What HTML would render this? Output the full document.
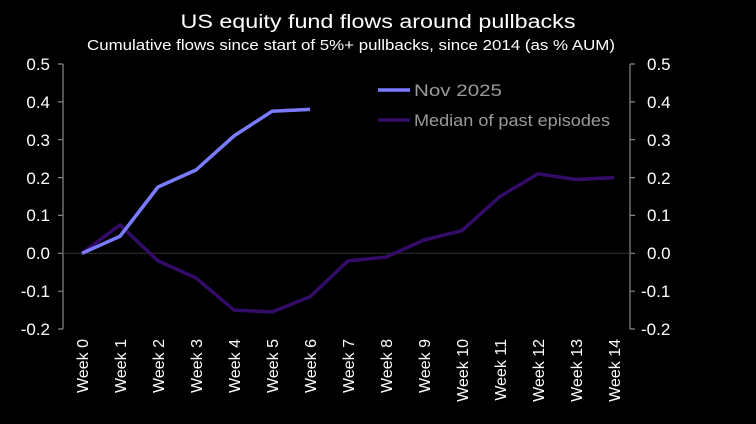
<!DOCTYPE html>
<html><head><style>body{margin:0;background:#000}svg{display:block}</style></head><body>
<svg width="756" height="424" viewBox="0 0 756 424" xmlns="http://www.w3.org/2000/svg" font-family="Liberation Sans, sans-serif">
<rect width="756" height="424" fill="#000"/>
<text x="378" y="28" fill="#fff" font-size="19" text-anchor="middle" textLength="395" lengthAdjust="spacingAndGlyphs">US equity fund flows around pullbacks</text>
<text x="351" y="50" fill="#fff" font-size="14.5" text-anchor="middle" textLength="528" lengthAdjust="spacingAndGlyphs">Cumulative flows since start of 5%+ pullbacks, since 2014 (as % AUM)</text>
<g stroke="#888" stroke-width="1.2" fill="none">
<path d="M63,64V329M58,64H63M58,101.9H63M58,139.7H63M58,177.6H63M58,215.4H63M58,253.3H63M58,291.2H63M58,329H63"/>
<path d="M630,64V329M630,64H635M630,101.9H635M630,139.7H635M630,177.6H635M630,215.4H635M630,253.3H635M630,291.2H635M630,329H635"/>
</g>
<line x1="63" y1="253.3" x2="630" y2="253.3" stroke="#333" stroke-width="1"/>
<g fill="#fff" font-size="17" text-anchor="end">
<text x="50" y="70">0.5</text><text x="50" y="108">0.4</text><text x="50" y="146">0.3</text><text x="50" y="184">0.2</text><text x="50" y="221">0.1</text><text x="50" y="259">0.0</text><text x="50" y="297">-0.1</text><text x="50" y="335">-0.2</text>
</g>
<g fill="#fff" font-size="17" text-anchor="start">
<text x="647" y="70">0.5</text><text x="647" y="108">0.4</text><text x="647" y="146">0.3</text><text x="647" y="184">0.2</text><text x="647" y="221">0.1</text><text x="647" y="259">0.0</text><text x="641" y="297">-0.1</text><text x="641" y="335">-0.2</text>
</g>
<g fill="#fff" font-size="16" text-anchor="end">
<text transform="translate(88,339) rotate(-90)">Week 0</text>
<text transform="translate(126,339) rotate(-90)">Week 1</text>
<text transform="translate(164,339) rotate(-90)">Week 2</text>
<text transform="translate(202,339) rotate(-90)">Week 3</text>
<text transform="translate(240,339) rotate(-90)">Week 4</text>
<text transform="translate(278,339) rotate(-90)">Week 5</text>
<text transform="translate(316,339) rotate(-90)">Week 6</text>
<text transform="translate(354,339) rotate(-90)">Week 7</text>
<text transform="translate(392,339) rotate(-90)">Week 8</text>
<text transform="translate(430,339) rotate(-90)">Week 9</text>
<text transform="translate(468,339) rotate(-90)">Week 10</text>
<text transform="translate(506,339) rotate(-90)">Week 11</text>
<text transform="translate(544,339) rotate(-90)">Week 12</text>
<text transform="translate(582,339) rotate(-90)">Week 13</text>
<text transform="translate(620,339) rotate(-90)">Week 14</text>
</g>
<polyline fill="none" stroke="#330c68" stroke-width="3.5" stroke-linejoin="round" points="82,253.3 120,224.9 158,260.9 196,277.9 234,310.1 272,312 310,296.8 348,260.9 386,257.1 424,240 462,230.6 500,196.5 538,173.8 576,179.5 614,177.6"/>
<polyline fill="none" stroke="#7b7bff" stroke-width="3.5" stroke-linejoin="round" points="82,253.3 120,236.3 158,187 196,170 234,135.9 272,111.3 310,109.4"/>
<line x1="378" y1="90" x2="410" y2="90" stroke="#7b7bff" stroke-width="3.5"/>
<text x="414" y="96" fill="#9a9a9a" font-size="17" textLength="88" lengthAdjust="spacingAndGlyphs">Nov 2025</text>
<line x1="378" y1="120" x2="410" y2="120" stroke="#330c68" stroke-width="3.5"/>
<text x="414" y="126" fill="#9a9a9a" font-size="17" textLength="196" lengthAdjust="spacingAndGlyphs">Median of past episodes</text>
</svg>
</body></html>
